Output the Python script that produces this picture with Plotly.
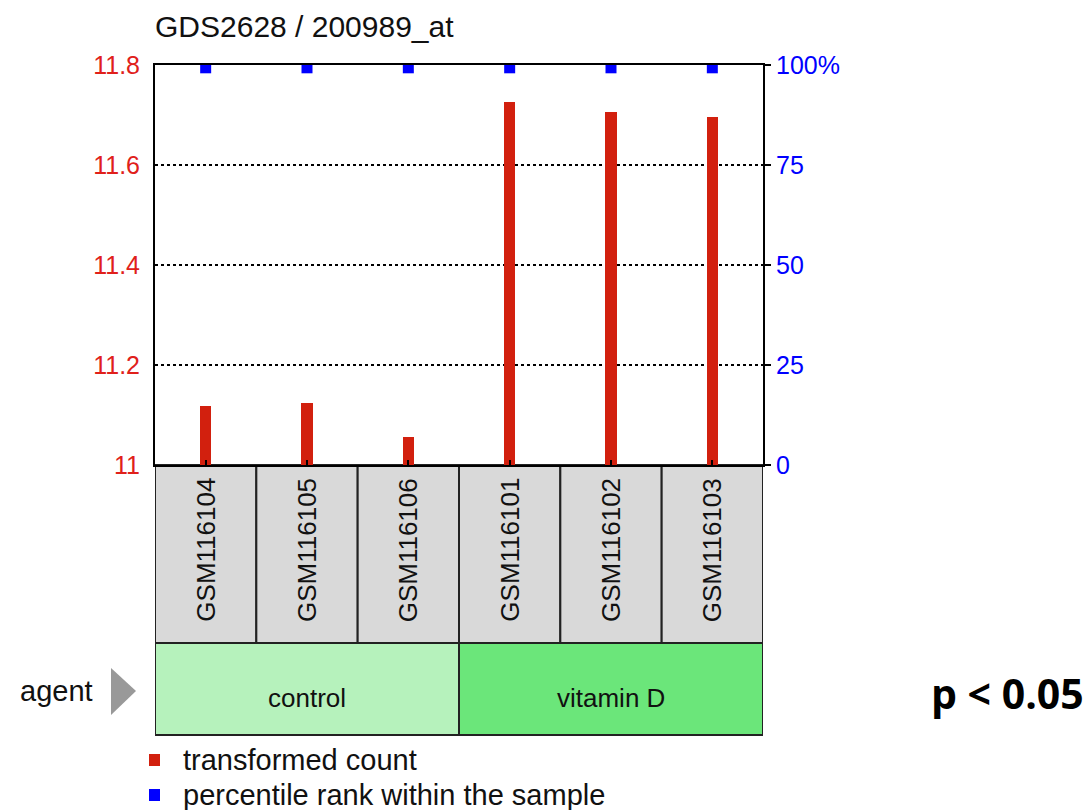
import plotly.graph_objects as go

# ---- data ----
samples = ["GSM116104", "GSM116105", "GSM116106", "GSM116101", "GSM116102", "GSM116103"]
transformed_count = [11.118, 11.124, 11.056, 11.726, 11.706, 11.696]
percentile_rank = [99.3, 99.3, 99.3, 99.3, 99.3, 99.3]
agent_groups = ["control", "control", "control", "vitamin D", "vitamin D", "vitamin D"]
agent_colors = {"control": "#b6f2bc", "vitamin D": "#6be67a"}
left_ticks = [11, 11.2, 11.4, 11.6, 11.8]
left_ticktext = ["11", "11.2", "11.4", "11.6", "11.8"]
right_ticks = [0, 25, 50, 75, 100]
right_ticktext = ["0", "25", "50", "75", "100%"]

W, H = 1092, 810
def px(x):
    return x / W
def py(y):
    return 1 - y / H

FONT = "Liberation Sans, Arial, sans-serif"
RED = "#d2200e"
BLUE = "#0000ff"

x_idx = list(range(len(samples)))

fig = go.Figure()
fig.add_trace(go.Bar(
    x=x_idx, y=transformed_count, width=0.11,
    marker=dict(color=RED, line=dict(width=0)),
    name="transformed count", yaxis="y", showlegend=False,
))
fig.add_trace(go.Scatter(
    x=x_idx, y=percentile_rank, mode="markers",
    marker=dict(symbol="square", size=11, color=BLUE, line=dict(width=0)),
    name="percentile rank within the sample", yaxis="y2", showlegend=False,
))

shapes = []
annotations = []

def ann(**kw):
    kw.setdefault("showarrow", False)
    kw.setdefault("xanchor", "center")
    kw.setdefault("yanchor", "middle")
    annotations.append(kw)

# sample boxes
for i, s in enumerate(samples):
    shapes.append(dict(type="rect", xref="x", yref="paper",
                       x0=i - 0.5, x1=i + 0.5, y0=py(643), y1=py(465),
                       fillcolor="#d9d9d9", line=dict(color="#222222", width=2), layer="below"))
    ann(xref="x", yref="paper", x=i, y=py(550), text=s, textangle=-90,
        font=dict(family=FONT, size=26, color="#111111"))

# agent group boxes
groups = []
for i, g in enumerate(agent_groups):
    if groups and groups[-1][0] == g:
        groups[-1][2] = i
    else:
        groups.append([g, i, i])
for g, a, b in groups:
    shapes.append(dict(type="rect", xref="x", yref="paper",
                       x0=a - 0.5, x1=b + 0.5, y0=py(735), y1=py(643),
                       fillcolor=agent_colors[g], line=dict(color="#222222", width=2), layer="below"))
    ann(xref="x", yref="paper", x=(a + b) / 2, y=py(698), text=g,
        font=dict(family=FONT, size=26, color="#111111"))

# agent label + triangle
ann(xref="paper", yref="paper", x=px(95), y=py(691), text="agent", xanchor="right",
    font=dict(family=FONT, size=29, color="#111111"))
shapes.append(dict(type="path", xref="paper", yref="paper",
                   path=f"M {px(111)},{py(668)} L {px(136)},{py(691)} L {px(111)},{py(715)} Z",
                   fillcolor="#999999", line=dict(width=0)))

# title
ann(xref="paper", yref="paper", x=px(153), y=py(27), text="GDS2628 / 200989_at", xanchor="left",
    font=dict(family=FONT, size=30, color="#111111"))

# legend
for yy, col, txt in [(760, RED, "transformed count"), (795, BLUE, "percentile rank within the sample")]:
    shapes.append(dict(type="rect", xref="paper", yref="paper",
                       x0=px(149), x1=px(160), y0=py(yy + 6), y1=py(yy - 6),
                       fillcolor=col, line=dict(width=0)))
    ann(xref="paper", yref="paper", x=px(181), y=py(yy), text=txt, xanchor="left",
        font=dict(family=FONT, size=29, color="#111111"))

# p-value
ann(xref="paper", yref="paper", x=px(1086), y=py(693), text="<b>p &lt; 0.05</b>", xanchor="right",
    font=dict(family="Open Sans, sans-serif", size=41, color="#000000"))

fig.update_layout(
    width=W, height=H, autosize=False,
    margin=dict(l=0, r=0, t=0, b=0, pad=0),
    paper_bgcolor="white", plot_bgcolor="white",
    bargap=0,
    xaxis=dict(domain=[px(155), px(763)], range=[-0.5, len(samples) - 0.5],
               showticklabels=False, ticks="inside", ticklen=5, tickwidth=2, tickcolor="#000",
               tickvals=x_idx, showgrid=False, zeroline=False, automargin=False,
               showline=True, linecolor="#000", linewidth=2, mirror=True, fixedrange=True),
    yaxis=dict(domain=[py(465), py(65)], range=[11, 11.8], automargin=False,
               tickvals=left_ticks, ticktext=left_ticktext, ticks="",
               tickfont=dict(family=FONT, size=25, color="#e0201a"),
               showgrid=True, gridcolor="#000", griddash="dot", gridwidth=1.5,
               zeroline=False, showline=True, linecolor="#000", linewidth=2, mirror=True,
               ticklabelstandoff=8),
    yaxis2=dict(domain=[py(465), py(65)], range=[0, 100], overlaying="y", side="right",
                automargin=False,
                tickvals=right_ticks, ticktext=right_ticktext, ticks="outside", ticklen=7,
                tickwidth=1.5, tickcolor="#000",
                tickfont=dict(family=FONT, size=25, color=BLUE),
                showgrid=False, zeroline=False, showline=False),
    shapes=shapes, annotations=annotations,
)

fig.write_html("out.html", config={"displayModeBar": False},
               post_script="document.body.style.margin='0';document.body.style.overflow='hidden';")
